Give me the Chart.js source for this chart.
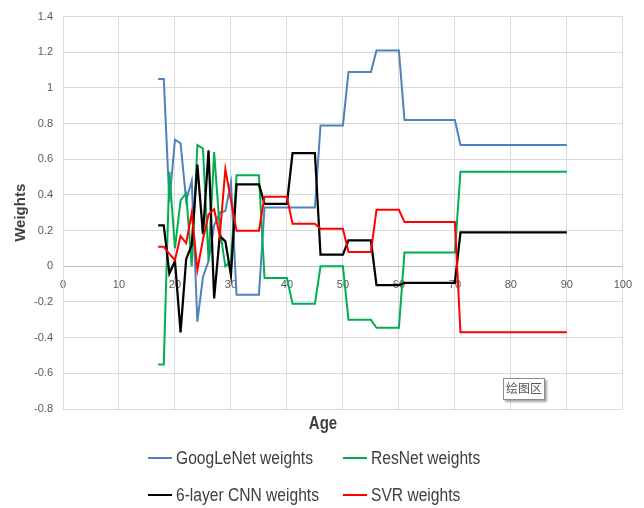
<!DOCTYPE html>
<html>
<head>
<meta charset="utf-8">
<script src="https://cdn.jsdelivr.net/npm/chart.js@4.4.1/dist/chart.umd.min.js"></script>
<style>
  body { margin: 0; background: #fff; }
  #wrap { position: relative; width: 644px; height: 508px; overflow: hidden; }
  #ageTitle {
    position: absolute; left: 283px; width: 80px; top: 414px; text-align: center;
    font: bold 15px "Liberation Sans", sans-serif; color: #404040;
    transform: scaleY(1.25);
  }
  .legendItem {
    position: absolute; display: flex; align-items: center; height: 22px;
    font: 15.6px "Liberation Sans", sans-serif; color: #404040; white-space: nowrap;
  }
  .legendItem span.swatch { display: inline-block; width: 24px; height: 2px; margin-right: 4px; }
  .legendItem span.txt { display: inline-block; transform: scaleY(1.2); }
  #plotTip {
    position: absolute; left: 503px; top: 378px; width: 40px; height: 20px; line-height: 20px;
    border: 1px solid #8c8c8c; background: #fff; box-shadow: 2px 2px 2px rgba(0,0,0,0.35);
    font: 12px "Noto Sans CJK SC", sans-serif; color: #555; text-align: center;
  }
</style>
</head>
<body>
<div id="wrap">
  <canvas id="weightsChart" width="644" height="508"></canvas>
  <div id="ageTitle">Age</div>
  <div id="legendBox"></div>
  <div id="plotTip">绘图区</div>
</div>
<script>
// ages where the weights change (flat runs in between)
const ages = [17, 18, 19, 20, 21, 22, 23, 24, 25, 26, 27, 28, 29, 30, 31,
  35, 36, 40, 41, 45, 46, 50, 51, 55, 56, 60, 61, 70, 71, 90];

const googLeNetWeights = [1.05, 1.05, 0.36, 0.71, 0.69, 0.37, 0.48, -0.31, -0.06, 0.03, 0.23, 0.30, 0.31, 0.47, -0.16,
  -0.16, 0.33, 0.33, 0.33, 0.33, 0.79, 0.79, 1.09, 1.09, 1.21, 1.21, 0.82, 0.82, 0.68, 0.68];
const resNetWeights = [-0.55, -0.55, 0.53, 0.10, 0.37, 0.41, 0.00, 0.68, 0.66, 0.03, 0.64, 0.21, 0.00, 0.03, 0.51,
  0.51, -0.065, -0.065, -0.21, -0.21, 0.00, 0.00, -0.30, -0.30, -0.345, -0.345, 0.077, 0.077, 0.53, 0.53];
const cnnWeights = [0.23, 0.23, -0.04, 0.03, -0.37, 0.04, 0.12, 0.57, 0.18, 0.65, -0.18, 0.17, 0.14, -0.05, 0.46,
  0.46, 0.35, 0.35, 0.635, 0.635, 0.065, 0.065, 0.145, 0.145, -0.105, -0.105, -0.093, -0.093, 0.19, 0.19];
const svrWeights = [0.11, 0.11, 0.07, 0.035, 0.17, 0.13, 0.30, -0.02, 0.15, 0.29, 0.32, 0.17, 0.545, 0.37, 0.20,
  0.20, 0.39, 0.39, 0.238, 0.238, 0.21, 0.21, 0.08, 0.08, 0.317, 0.317, 0.248, 0.248, -0.37, -0.37];

const seriesNames = ["GoogLeNet weights", "ResNet weights", "6-layer CNN weights", "SVR weights"];
const seriesColors = ["#4F81BD", "#00B050", "#000000", "#FF0000"];
const seriesValues = [googLeNetWeights, resNetWeights, cnnWeights, svrWeights];

const yMin = -0.8, yMax = 1.4, yStep = 0.2;
const xMin = 0, xMax = 100, xStep = 10;

const tickFont = { family: "'Liberation Sans', sans-serif", size: 11 };
const gridColor = "#d9d9d9";

const toPoints = (vals) => ages.map((a, i) => ({ x: a, y: vals[i] }));

const datasets = seriesValues.map((vals, i) => ({
  label: seriesNames[i],
  data: toPoints(vals),
  borderColor: seriesColors[i],
  backgroundColor: seriesColors[i],
  borderWidth: i === 2 ? 2.25 : 2,
  pointRadius: 0,
  tension: 0,
  fill: false,
  order: seriesValues.length - i, // later series on top, like excel
}));

new Chart(document.getElementById("weightsChart"), {
  type: "line",
  data: { datasets },
  options: {
    responsive: false,
    animation: false,
    events: [],
    layout: { padding: { left: 0, right: 21, top: 11, bottom: 99 } },
    plugins: { legend: { display: false }, tooltip: { enabled: false } },
    scales: {
      x: {
        type: "linear",
        position: { y: 0 },
        min: xMin, max: xMax,
        ticks: { stepSize: xStep, color: "#595959", font: tickFont, padding: 12, maxRotation: 0 },
        grid: { color: gridColor, drawTicks: false },
        border: { color: "#bfbfbf" },
      },
      y: {
        min: yMin, max: yMax,
        ticks: {
          stepSize: yStep, color: "#595959", font: tickFont, padding: 10,
          callback: (v) => String(parseFloat(v.toFixed(1))),
        },
        grid: { color: gridColor, drawTicks: false },
        border: { color: gridColor },
        title: {
          display: true, text: "Weights", color: "#404040",
          font: { family: "'Liberation Sans', sans-serif", size: 15, weight: "bold" },
          padding: { top: 12, bottom: 0 },
        },
        afterFit: (scale) => { scale.width = 63; },
      },
    },
  },
});

// legend as two columns, like the excel one
const legendBox = document.getElementById("legendBox");
const legendLeft = [148, 343];
const legendTop = [447, 484];
seriesNames.forEach((name, i) => {
  const item = document.createElement("div");
  item.className = "legendItem";
  item.style.left = legendLeft[i % 2] + "px";
  item.style.top = legendTop[Math.floor(i / 2)] + "px";
  const sw = document.createElement("span");
  sw.className = "swatch";
  sw.style.background = seriesColors[i];
  const txt = document.createElement("span");
  txt.className = "txt";
  txt.textContent = name;
  item.appendChild(sw);
  item.appendChild(txt);
  legendBox.appendChild(item);
});
</script>
</body>
</html>
